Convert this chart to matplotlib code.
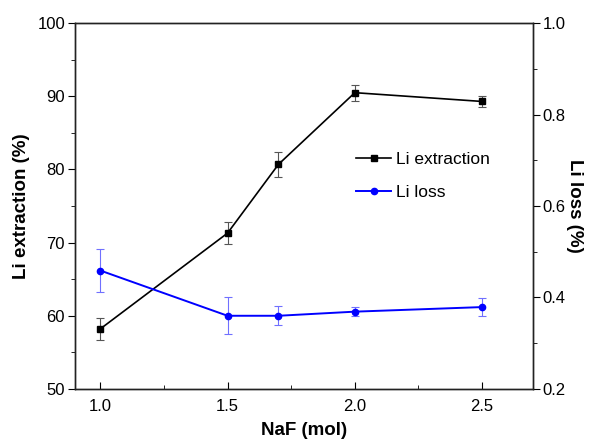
import matplotlib
matplotlib.use("Agg")
import matplotlib.pyplot as plt
from matplotlib.lines import Line2D
from matplotlib.ticker import MultipleLocator

plt.rcParams["font.family"] = ["Liberation Sans", "DejaVu Sans"]

naf = [1.0, 1.5, 1.7, 2.0, 2.5]
extraction = [58.2, 71.3, 80.7, 90.5, 89.3]
extraction_err = [1.5, 1.5, 1.7, 1.1, 0.8]
loss = [0.459, 0.360, 0.360, 0.369, 0.379]
loss_err = [0.046, 0.040, 0.021, 0.010, 0.020]

fig = plt.figure(figsize=(5.89, 4.46), dpi=100)
ax = fig.add_axes([0.127, 0.128, 0.778, 0.820])
ax2 = ax.twinx()

ax.errorbar(naf, extraction, yerr=extraction_err, color="black", marker="s",
            markersize=4.5, linewidth=1.2, ecolor="#555555", elinewidth=0.8,
            capsize=3, capthick=0.8)
ax2.errorbar(naf, loss, yerr=loss_err, color="#0000ff", marker="o",
             markersize=4.5, linewidth=1.4, ecolor="#7070ff", elinewidth=0.8,
             capsize=3, capthick=0.8)

ax.set_xlim(0.9, 2.7)
ax.set_ylim(50, 100)
ax2.set_ylim(0.2, 1.0)

ax.xaxis.set_major_locator(MultipleLocator(0.5))
ax.xaxis.set_minor_locator(MultipleLocator(0.25))
ax.yaxis.set_major_locator(MultipleLocator(10))
ax.yaxis.set_minor_locator(MultipleLocator(5))
ax2.yaxis.set_major_locator(MultipleLocator(0.2))
ax2.yaxis.set_minor_locator(MultipleLocator(0.1))

ax.tick_params(axis="x", which="both", direction="in", labelsize=12, pad=7)
ax.tick_params(axis="x", which="major", length=5)
ax.tick_params(axis="x", which="minor", length=3)
ax.tick_params(axis="y", which="both", direction="out", labelsize=12, pad=2)
ax.tick_params(axis="y", which="major", length=5)
ax.tick_params(axis="y", which="minor", length=3)
ax2.tick_params(axis="y", which="both", direction="out", labelsize=12, pad=2)
ax2.tick_params(axis="y", which="major", length=5)
ax2.tick_params(axis="y", which="minor", length=3)

for a in (ax, ax2):
    for s in a.spines.values():
        s.set_linewidth(1.0)
        s.set_color("#222222")

ax.set_xlabel("NaF (mol)", fontsize=13.5, fontweight="bold", labelpad=6)
ax.set_ylabel("Li extraction (%)", fontsize=13.5, fontweight="bold", labelpad=5)
ax2.set_ylabel("Li loss (%)", fontsize=13.5, fontweight="bold", rotation=270, labelpad=12)

handles = [
    Line2D([], [], color="black", marker="s", markersize=4.5, linewidth=1.2),
    Line2D([], [], color="#0000ff", marker="o", markersize=4.5, linewidth=1.4),
]
ax2.legend(handles, ["Li extraction", "Li loss"], loc="upper left",
           bbox_to_anchor=(0.58, 0.69), frameon=False, fontsize=12.5,
           handlelength=2.0, handletextpad=0.3, labelspacing=1.0)

fig.savefig("out.png", dpi=100)
